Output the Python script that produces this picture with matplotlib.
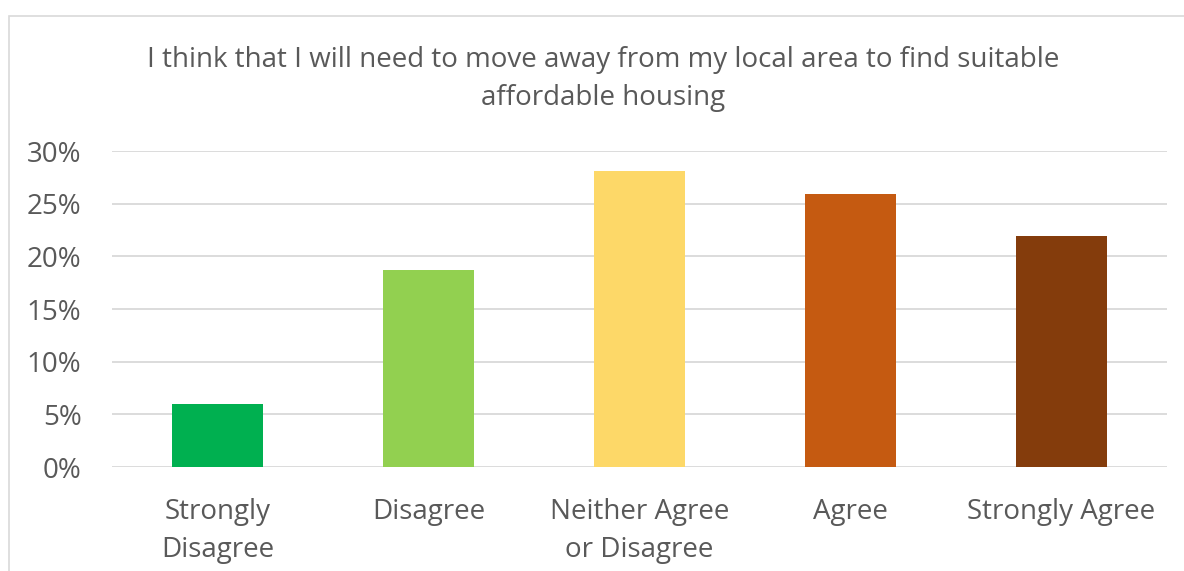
import matplotlib
matplotlib.use("Agg")
import matplotlib.pyplot as plt
from matplotlib.patches import Rectangle
from matplotlib.ticker import FuncFormatter, MultipleLocator

categories = ["Strongly\nDisagree", "Disagree", "Neither Agree\nor Disagree", "Agree", "Strongly Agree"]
values = [0.060, 0.187, 0.281, 0.259, 0.219]
colors = ["#00B050", "#92D050", "#FDD868", "#C55A11", "#843C0C"]
title = "I think that I will need to move away from my local area to find suitable\naffordable housing"

plt.rcParams['font.family'] = ['Open Sans', 'DejaVu Sans']
W, H = 1184, 571
fig = plt.figure(figsize=(W/100, H/100), dpi=100)
fig.patch.set_facecolor("white")

# chart border
fig.patches.append(Rectangle((9/W, -0.1), 1.2, (H-16)/H + 0.1, transform=fig.transFigure,
                             fill=False, edgecolor="#D9D9D9", linewidth=1.2))

ax = fig.add_axes([112/W, (H-467)/H, 1055/W, 316/H])
x = range(len(categories))
ax.bar(x, values, width=0.43, color=colors, zorder=3)
ax.set_xlim(-0.5, len(categories)-0.5)
ax.set_ylim(0, 0.30)
ax.yaxis.set_major_locator(MultipleLocator(0.05))
ax.yaxis.set_major_formatter(FuncFormatter(lambda v, p: f"{v*100:.0f}%"))
ax.grid(axis="y", color="#D9D9D9", linewidth=1.3, zorder=0)
for s in ax.spines.values():
    s.set_visible(False)
ax.tick_params(axis="both", length=0, labelsize=20, colors="#595959")
ax.tick_params(axis="y", pad=22)
ax.tick_params(axis="x", pad=22)
ax.set_xticks(list(x))
ax.set_xticklabels(categories, linespacing=1.5)
for lab in ax.get_xticklabels():
    lab.set_color("#595959")

fig.text(603/W, 1 - 79/H, title, ha="center", va="center", fontsize=20,
         color="#595959", linespacing=1.5)

fig.savefig("out.png", dpi=100, facecolor="white")
